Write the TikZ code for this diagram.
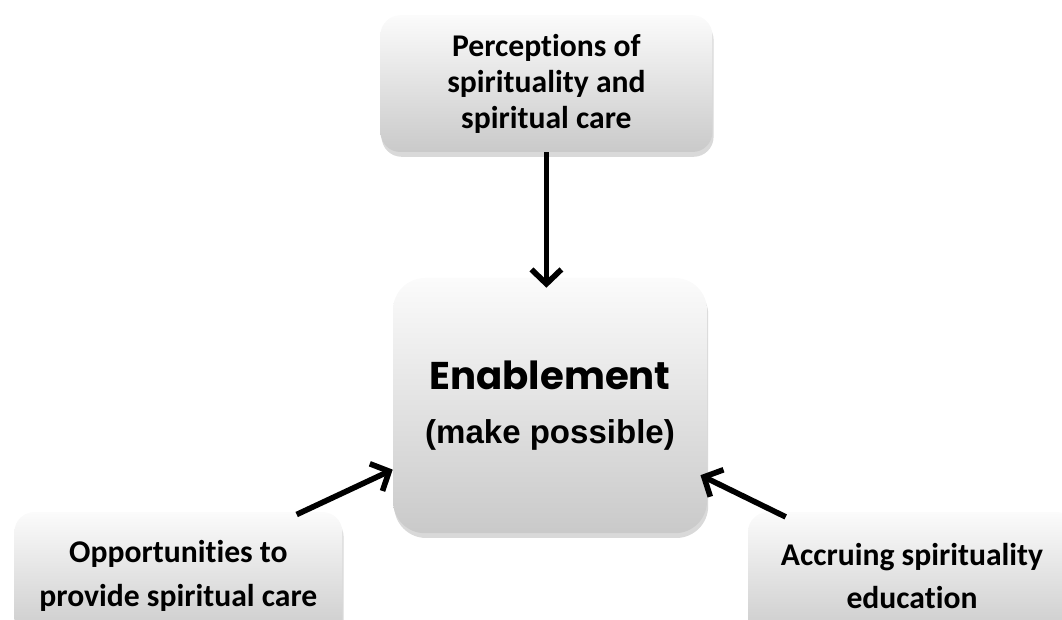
\documentclass[tikz,border=0pt]{standalone}
\usepackage{fontspec}
\setmainfont[Ligatures=NoCommon]{Carlito}
\newfontfamily\titlefont{Poppins}
\newfontfamily\plainfont{Liberation Sans}
\usetikzlibrary{shadows,arrows.meta}

\begin{document}
\begin{tikzpicture}[main node/.style={rounded corners=0.5cm,top color=gray!3,bottom color=gray!42,
    drop shadow={shadow xshift=0.3mm,shadow yshift=-1.2mm,opacity=0.3},
    align=center,inner sep=0pt,font=\bfseries\fontsize{22.5}{25.5}\selectfont},
  low node/.style={main node,minimum width=8.2cm,minimum height=3.2cm,font=\bfseries\fontsize{22.5}{31}\selectfont},
  arr/.style={line width=4pt,-{Straight Barb[length=3.6mm,width=7.5mm]}}]

          \clip (0,0) rectangle (26.55,15.5);

          \node[main node,minimum width=8.3cm,minimum height=3.42cm] (per) at (13.66,13.41) {Perceptions of\\spirituality and\\spiritual care};
          \node[main node,rounded corners=0.8cm,minimum width=7.85cm,minimum height=6.38cm] (en) at (13.75,5.36)
            {{\titlefont\bfseries\fontsize{27.5}{30}\selectfont Enablement}\\[13.5pt]{\plainfont\bfseries\fontsize{23.5}{25}\selectfont (make possible)}};
          \node[low node] (opp) at (4.46,1.1) {Opportunities to\\provide spiritual care};
          \node[low node] (acc) at (22.8,1.1) {Accruing spirituality\\education};

          \draw[arr,shorten >=-0.25cm] (per.south) -- (per.south |- en.north);
          \draw[arr] ([xshift=-1.15cm,yshift=-0.07cm]opp.north east) -- ([yshift=-1.6cm]en.west);
          \draw[arr] ([xshift=0.95cm,yshift=-0.13cm]acc.north west) -- ([xshift=-0.17cm,yshift=-1.74cm]en.east);

        \end{tikzpicture}
\end{document}
